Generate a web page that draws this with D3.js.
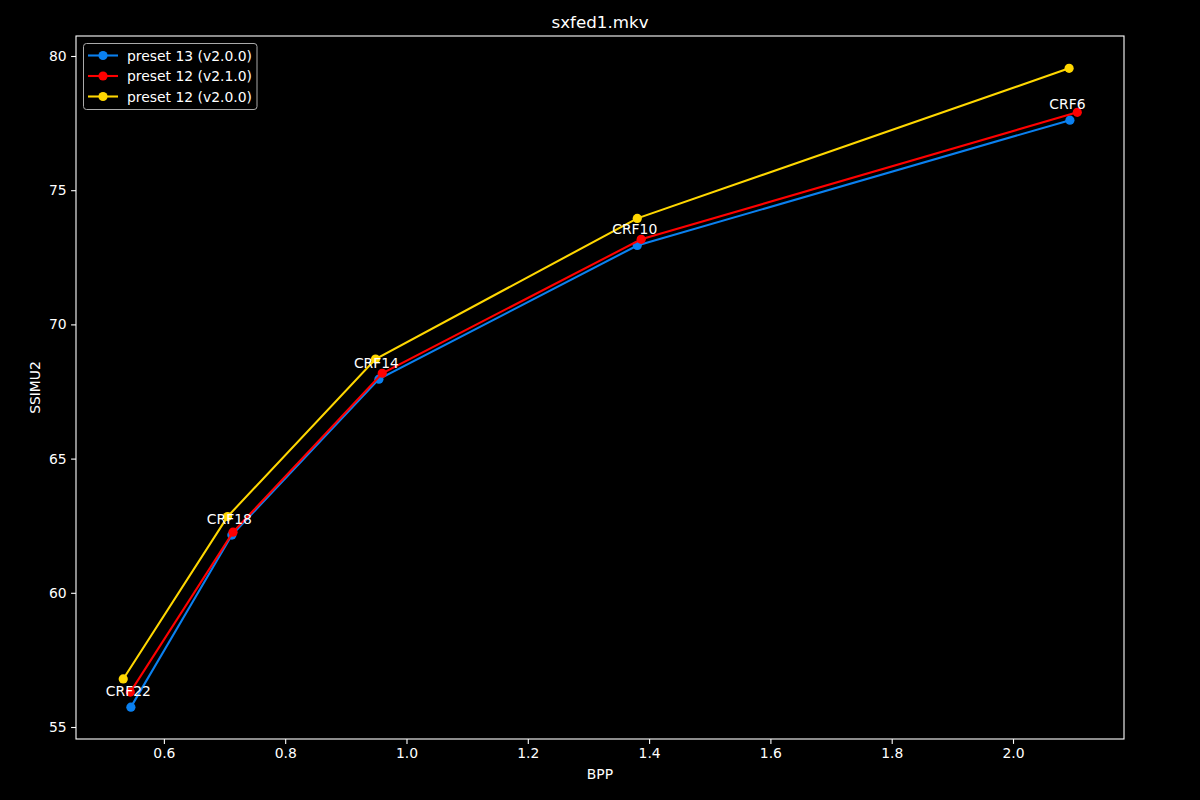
<!DOCTYPE html>
<html><head><meta charset="utf-8">
<script src="https://cdn.jsdelivr.net/npm/d3@7"></script>
<style>body{margin:0;background:#000}svg{display:block}text{font-family:"DejaVu Sans",sans-serif;fill:#fff}</style>
</head><body>
<script>
const crfLabels = ["CRF22","CRF18","CRF14","CRF10","CRF6"];
const seriesNames = ["preset 13 (v2.0.0)","preset 12 (v2.1.0)","preset 12 (v2.0.0)"];
const seriesColors = ["#0a80f0","#ff0000","#ffd700"];
const bpp13v200 = [0.5456,0.7121,0.9545,1.3805,2.0938];
const ssim13v200 = [55.74,62.15,67.96,72.94,77.61];
const bpp12v210 = [0.5446,0.7140,0.9600,1.3870,2.1060];
const ssim12v210 = [56.30,62.26,68.18,73.17,77.90];
const bpp12v200 = [0.5330,0.7050,0.9490,1.3805,2.0925];
const ssim12v200 = [56.79,62.84,68.71,73.95,79.54];
const xTicks = [0.6,0.8,1.0,1.2,1.4,1.6,1.8,2.0];
const yTicks = [55,60,65,70,75,80];

const W=1200,H=800, L=76,R=1124,T=36,B=739;
const svg=d3.select("body").append("svg").attr("width",W).attr("height",H).style("background","#000");
const x=d3.scaleLinear().domain([0.4551,2.1830]).range([L,R]);
const y=d3.scaleLinear().domain([54.553,80.745]).range([B,T]);

const series=[
  {name:seriesNames[0],color:seriesColors[0],xs:bpp13v200,ys:ssim13v200},
  {name:seriesNames[1],color:seriesColors[1],xs:bpp12v210,ys:ssim12v210},
  {name:seriesNames[2],color:seriesColors[2],xs:bpp12v200,ys:ssim12v200}
];

// axes
const xa=svg.append("g").attr("transform",`translate(0,${B})`).call(d3.axisBottom(x).tickValues(xTicks).tickFormat(d3.format(".1f")).tickSize(4.9).tickPadding(4.5));
const ya=svg.append("g").attr("transform",`translate(${L},0)`).call(d3.axisLeft(y).tickValues(yTicks).tickFormat(d3.format("d")).tickSize(4.9).tickPadding(4.5));
[xa,ya].forEach(g=>{g.select(".domain").remove();g.selectAll("line").attr("stroke","#fff").attr("stroke-width",1.1);g.selectAll("text").attr("fill","#fff").style("font-size","13.9px").style("font-family","DejaVu Sans");});
svg.append("rect").attr("x",L).attr("y",T).attr("width",R-L).attr("height",B-T).attr("fill","none").attr("stroke","#fff").attr("stroke-width",1.1);

const line=d3.line().x(d=>x(d[0])).y(d=>y(d[1]));
series.forEach(s=>{
  const pts=s.xs.map((v,i)=>[v,s.ys[i]]);
  svg.append("path").datum(pts).attr("d",line).attr("fill","none").attr("stroke",s.color).attr("stroke-width",2.08);
  svg.selectAll(null).data(pts).enter().append("circle").attr("cx",d=>x(d[0])).attr("cy",d=>y(d[1])).attr("r",4.6).attr("fill",s.color);
});

// CRF labels
crfLabels.forEach((t,i)=>{
  svg.append("text").attr("x",x(bpp13v200[i])-2.5).attr("y",y(ssim13v200[i])-11).attr("text-anchor","middle").style("font-size","13.9px").text(t);
});

// titles
svg.append("text").attr("x",(L+R)/2).attr("y",28).attr("text-anchor","middle").style("font-size","16.7px").text("sxfed1.mkv");
svg.append("text").attr("x",(L+R)/2).attr("y",779).attr("text-anchor","middle").style("font-size","13.9px").text("BPP");
svg.append("text").attr("transform",`translate(40,${(T+B)/2}) rotate(-90)`).attr("text-anchor","middle").style("font-size","13.9px").text("SSIMU2");

// legend
const lg=svg.append("g");
lg.append("rect").attr("x",83.5).attr("y",43.5).attr("width",173.5).attr("height",66).attr("rx",3).attr("fill","#000").attr("stroke","#aaa").attr("stroke-width",1);
series.forEach((s,i)=>{
  const yy=55.5+i*20.5;
  lg.append("line").attr("x1",88).attr("x2",118).attr("y1",yy).attr("y2",yy).attr("stroke",s.color).attr("stroke-width",2.08);
  lg.append("circle").attr("cx",103).attr("cy",yy).attr("r",4.6).attr("fill",s.color);
  lg.append("text").attr("x",127).attr("y",yy+5).style("font-size","13.9px").text(s.name);
});
</script>
</body></html>
